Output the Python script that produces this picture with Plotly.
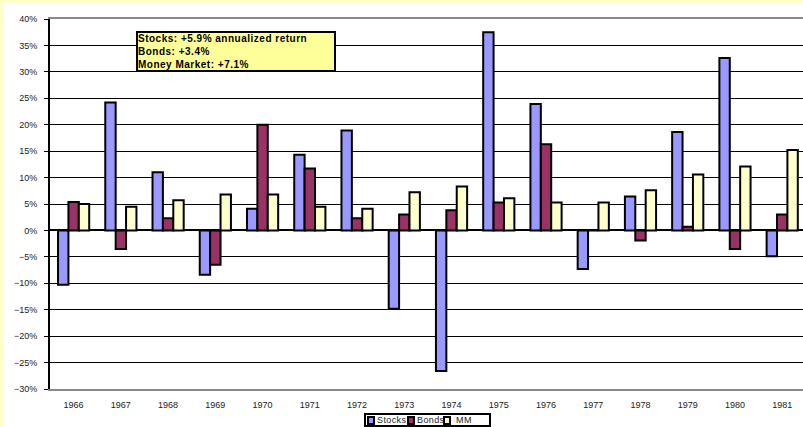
import plotly.graph_objects as go

years = [str(y) for y in range(1966, 1982)]
stocks = [-10.3, 24.2, 11.0, -8.4, 4.1, 14.3, 18.9, -14.8, -26.6, 37.5, 23.9, -7.3, 6.4, 18.6, 32.6, -4.9]
bonds = [5.4, -3.5, 2.3, -6.5, 20.0, 11.7, 2.3, 3.0, 3.8, 5.3, 16.3, 0.0, -1.9, 0.7, -3.5, 3.0]
mm = [5.0, 4.5, 5.7, 6.8, 6.8, 4.5, 4.1, 7.2, 8.3, 6.1, 5.3, 5.3, 7.6, 10.6, 12.1, 15.2]

series_names = ["Stocks", "Bonds", "MM"]
series_colors = ["#9999FF", "#993366", "#FFFFCC"]
note_lines = ["Stocks: +5.9% annualized return", "Bonds: +3.4%", "Money Market: +7.1%"]

W, H = 803, 427
ML, MR, MT, MB = 50, 0, 19, 38
PW = W - ML - MR
PH = H - MT - MB
YMIN, YMAX = -30, 40
XR = [-0.5, 15.44]

def px_x(px):
    return (px - ML) / PW

def px_y(py):
    return (H - MB - py) / PH

FONT = "Liberation Sans, Arial, sans-serif"
TXT = "#222"

fig = go.Figure()
line = dict(color="black", width=2)
for name, vals, col in zip(series_names, [stocks, bonds, mm], series_colors):
    fig.add_trace(go.Bar(name=name, x=years, y=vals, marker=dict(color=col, line=line),
                         showlegend=False))

# legend drawn as a small boxed key
shapes = [
    dict(type="rect", xref="paper", yref="paper", x0=px_x(0), x1=px_x(4),
         y0=px_y(H), y1=px_y(0), fillcolor="#FFFFCC", line=dict(width=0), layer="below"),
    dict(type="rect", xref="paper", yref="paper", x0=px_x(0), x1=px_x(W),
         y0=px_y(3), y1=px_y(0), fillcolor="#FFFFCC", line=dict(width=0), layer="below"),
    dict(type="rect", xref="paper", yref="paper", x0=px_x(365), x1=px_x(490),
         y0=px_y(426), y1=px_y(414), fillcolor="white", line=dict(color="black", width=2)),
]
annotations = [
    dict(xref="paper", yref="paper", x=px_x(136), y=px_y(30.5), xanchor="left", yanchor="top",
         text="<br>".join('<span style="letter-spacing:0.5px"><b>' + t + "</b></span>"
                          for t in note_lines),
         align="left", showarrow=False, bgcolor="#FFFF99", bordercolor="black", borderwidth=2,
         borderpad=0, font=dict(size=10, color="black", family=FONT), width=196),
]
key_sq = [368, 408, 444]
key_tx = [376, 416, 455]
for name, col, sx, tx in zip(series_names, series_colors, key_sq, key_tx):
    shapes.append(dict(type="rect", xref="paper", yref="paper", x0=px_x(sx), x1=px_x(sx + 6),
                       y0=px_y(424), y1=px_y(417), fillcolor=col,
                       line=dict(color="black", width=2)))
    annotations.append(dict(xref="paper", yref="paper", x=px_x(tx), y=px_y(420.5),
                            xanchor="left", yanchor="middle",
                            text='<span style="letter-spacing:0.4px">' + name + "</span>",
                            showarrow=False, borderpad=0,
                            font=dict(size=9, color=TXT, family=FONT)))

fig.update_layout(
    width=W, height=H,
    margin=dict(l=ML, r=MR, t=MT, b=MB, pad=0, autoexpand=False),
    paper_bgcolor="white", plot_bgcolor="white",
    barmode="group", bargap=0.34, bargroupgap=0,
    font=dict(family=FONT, size=9, color=TXT),
    showlegend=False,
    xaxis=dict(range=XR, showgrid=False, showline=True, linecolor="#888",
               linewidth=2, mirror=True, ticks="", tickfont=dict(size=9, color=TXT),
               zeroline=False, automargin=False, ticklabelstandoff=6),
    xaxis2=dict(overlaying="x", anchor="free", position=(0 - YMIN) / (YMAX - YMIN),
                type="linear", range=XR, tickmode="array",
                tickvals=[i + 0.5 for i in range(len(years) - 1)],
                ticks="outside", ticklen=3, tickwidth=2, tickcolor="black",
                showticklabels=False, showgrid=False, zeroline=False, showline=False),
    yaxis=dict(range=[YMIN, YMAX], dtick=5, ticksuffix="%", showgrid=True, gridcolor="black",
               gridwidth=1, zeroline=True, zerolinecolor="black", zerolinewidth=2,
               showline=True, linecolor="black", linewidth=2, ticks="outside",
               ticklen=4, tickcolor="black", tickwidth=1, automargin=False,
               ticklabelstandoff=5, tickfont=dict(size=9, color=TXT)),
    shapes=shapes,
    annotations=annotations,
)

fig.write_html("out.html", config={"displayModeBar": False},
               post_script="document.body.style.margin='0';document.body.style.overflow='hidden';")
